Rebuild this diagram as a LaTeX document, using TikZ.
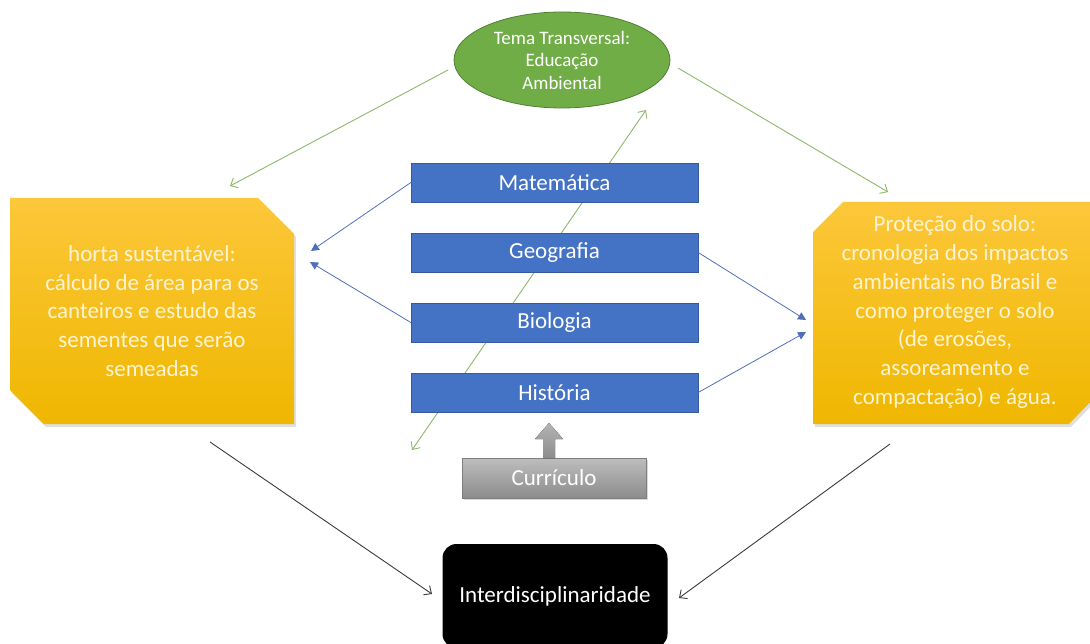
\documentclass[tikz,border=0pt]{standalone}
\usepackage{fontspec}
\setmainfont{Carlito}
\usetikzlibrary{arrows.meta,shapes.geometric,shadows}
\definecolor{subjblue}{HTML}{4472C4}
\definecolor{ellgreen}{HTML}{70AD47}
\definecolor{ellborder}{HTML}{507E32}
\definecolor{lnkgreen}{HTML}{8DB86A}
\definecolor{lnkblue}{HTML}{4F70B8}
\definecolor{goldtop}{HTML}{FCC73A}
\definecolor{goldbot}{HTML}{EFB700}
\definecolor{creamtxt}{HTML}{FFF4D2}
\definecolor{graytop}{HTML}{BDBDBD}
\definecolor{graybot}{HTML}{8C8C8C}
\definecolor{lnkdark}{HTML}{3A3A3A}
\tikzset{
  subject/.style={rectangle, fill=subjblue, draw=subjblue!80!black, line width=0.4pt, minimum width=287pt, minimum height=39pt, text=white, font=\fontsize{23}{26}\selectfont, inner sep=0pt},
  goldbox/.style={top color=goldtop, bottom color=goldbot, drop shadow={opacity=0.25, shadow xshift=2pt, shadow yshift=-3pt}},
  goldtext/.style={align=center, text=creamtxt, font=\fontsize{23}{28.9}\selectfont, inner sep=0pt},
  greenlink/.style={draw=lnkgreen, line width=0.9pt, -{Straight Barb[length=6pt,width=11pt]}},
  bluelink/.style={draw=lnkblue, line width=0.8pt, -{Triangle[length=8pt,width=8pt]}},
  darklink/.style={draw=lnkdark, line width=0.9pt, -{Straight Barb[length=6pt,width=11pt]}},
}
\begin{document}
\begin{tikzpicture}[x=1pt,y=-1pt]
\useasboundingbox (0,0) rectangle (1090,644);
\begin{scope}
\clip (0,0) rectangle (1090,644);
% long green double arrow (behind the subject boxes)
\coordinate (glA) at (412,450);
\coordinate (glB) at (646,110);
\draw[draw=lnkgreen, line width=0.9pt, {Straight Barb[length=6pt,width=11pt]}-{Straight Barb[length=6pt,width=11pt]}] (glA) -- (glB);

% gold snipped boxes
\path[goldbox] (10,198) -- (258,198) -- (294,234) -- (294,424) -- (44,424) -- (10,390) -- cycle;
\node[goldtext] (horta) at (152,311) {horta sustentável:\\cálculo de área para os\\canteiros e estudo das\\sementes que serão\\semeadas};
\path[goldbox] (843,202) -- (1099,202) -- (1099,393) -- (1069,424) -- (813,424) -- (813,232) -- cycle;
\node[goldtext] (solo) at (955,312) {Proteção do solo:\\cronologia dos impactos\\ambientais no Brasil e\\como proteger o solo\\(de erosões,\\assoreamento e\\compactação) e água.};

% ellipse
\node[ellipse, fill=ellgreen, draw=ellborder, line width=0.8pt, minimum width=216pt, minimum height=96pt, inner sep=0pt] (tema) at (562,60) {};
\node[align=center, text=white, font=\fontsize{19}{22.5}\selectfont, inner sep=0pt] (tematxt) at (562,60) {Tema Transversal:\\Educação\\Ambiental};

% subjects
\node[subject] (mat) at (554.5,182.5) {Matemática};
\node[subject] (geo) at (554.5,252.5) {Geografia};
\node[subject] (bio) at (554.5,322.5) {Biologia};
\node[subject] (his) at (554.5,392.5) {História};

% curriculum
\node[rectangle, top color=graytop, bottom color=graybot, draw=graybot!90!black, line width=0.3pt, minimum width=184pt, minimum height=40pt, text=white, font=\fontsize{23}{26}\selectfont, drop shadow={opacity=0.3, shadow xshift=1.5pt, shadow yshift=-2pt}] (curr) at (554,478) {Currículo};
\fill[top color=graytop!80!graybot, bottom color=graybot] (543,458) -- (543,439) -- (535,439) -- (549,423) -- (563,439) -- (555,439) -- (555,458) -- cycle;
\coordinate (currtip) at (549,423);

% interdisciplinaridade
\node[rectangle, rounded corners=14pt, fill=black, minimum width=225pt, minimum height=104pt, text=white, font=\fontsize{23}{26}\selectfont] (inter) at (555,596) {Interdisciplinaridade};

% green links from ellipse
\coordinate (gL0) at (448,70);
\coordinate (gL1) at (230,186);
\coordinate (gR0) at (678,68);
\coordinate (gR1) at (888,192);
\draw[greenlink] (gL0) -- (gL1);
\draw[greenlink] (gR0) -- (gR1);

% blue links
\coordinate (bL1) at (311,251);
\coordinate (bL2) at (310,262);
\coordinate (bR1) at (806,320);
\coordinate (bR2) at (806,332);
\draw[bluelink] (mat.west) -- (bL1);
\draw[bluelink] (bio.west) -- (bL2);
\draw[bluelink] (geo.east) -- (bR1);
\draw[bluelink] (his.east) -- (bR2);

% dark links to Interdisciplinaridade
\coordinate (dL0) at (210,442);
\coordinate (dL1) at (432,594);
\coordinate (dR0) at (890,444);
\coordinate (dR1) at (679,598);
\draw[darklink] (dL0) -- (dL1);
\draw[darklink] (dR0) -- (dR1);
\end{scope}
\end{tikzpicture}
\end{document}
